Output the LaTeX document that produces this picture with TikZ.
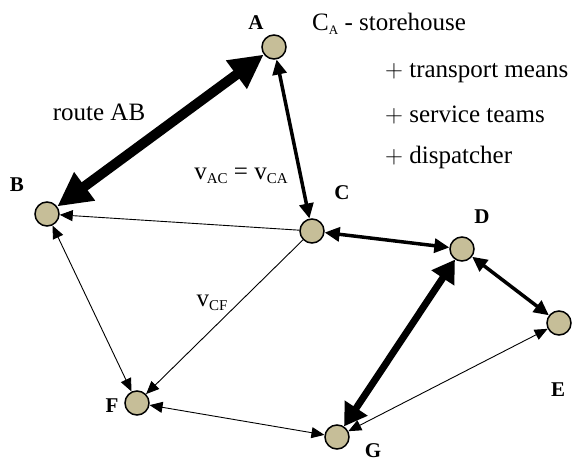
\documentclass[tikz,border=0pt]{standalone}
\usepackage{fontspec}
\setmainfont{Liberation Serif}
\usetikzlibrary{arrows.meta}
\definecolor{sand}{RGB}{198,190,152}
\newcommand{\lowidx}[2][15]{\raisebox{-3.5pt}{\fontsize{#1}{#1}\selectfont #2}}
\tikzset{
  site/.style={circle, draw=black, line width=1.5pt, fill=sand, minimum size=24pt, inner sep=0pt},
  tag/.style={font=\fontsize{21}{21}\selectfont\bfseries, inner sep=0pt},
  txt/.style={font=\fontsize{25}{29}\selectfont, inner sep=0pt},
  slimlink/.style={line width=0.9pt, >={Triangle[length=13pt,width=11pt]}},
  midlink/.style={line width=3.5pt, >={Triangle[length=15pt,width=14pt]}},
  widelink/.style={line width=7pt, >={Triangle[length=22pt,width=26pt]}},
  hugelink/.style={line width=10pt, >={Triangle[length=34pt,width=33pt]}}
}
\begin{document}
\begin{tikzpicture}[x=1pt, y=-1pt]
	\useasboundingbox (0,0) rectangle (575,461);
	% sites
	\node[site] (A) at (274,47) {};
	\node[site] (B) at (47,214) {};
	\node[site] (C) at (312,231) {};
	\node[site] (D) at (462,249) {};
	\node[site] (E) at (559,323) {};
	\node[site] (F) at (137,403) {};
	\node[site] (G) at (337,437) {};
	% site letters
	\node[tag] (lA) at (256,23) {A};
	\node[tag] (lB) at (17,185) {B};
	\node[tag] (lC) at (342,193) {C};
	\node[tag] (lD) at (482,217) {D};
	\node[tag] (lE) at (558,390) {E};
	\node[tag] (lF) at (112,406) {F};
	\node[tag] (lG) at (373,451) {G};

	% routes
	\draw[hugelink,<->] (A) -- (B);
	\draw[midlink,<->] (A) -- (C);
	\draw[slimlink,->] (C) -- (B);
	\draw[midlink,<->] (C) -- (D);
	\draw[midlink,<->] (D) -- (E);
	\draw[widelink,<->] (D) -- (G);
	\draw[slimlink,->] (C) -- (F);
	\draw[slimlink,<->] (B) -- (F);
	\draw[slimlink,<->] (F) -- (G);
	\draw[slimlink,<->] (E) -- (G);

	% texts
	\node[txt, anchor=west] (store) at (312,24) {C\lowidx[13]{A} - storehouse};
	\node[txt, anchor=west] (means) at (385,73) {$+$ transport means};
	\node[txt, anchor=west] (teams) at (385,115) {$+$ service teams};
	\node[txt, anchor=west] (disp) at (385,157) {$+$ dispatcher};
	\node[txt] (route) at (99,112) {route AB};
	\node[txt] (vac) at (241,176) {v\lowidx{AC} = v\lowidx{CA}};
	\node[txt] (vcf) at (212,303) {v\lowidx{CF}};
\end{tikzpicture}
\end{document}
